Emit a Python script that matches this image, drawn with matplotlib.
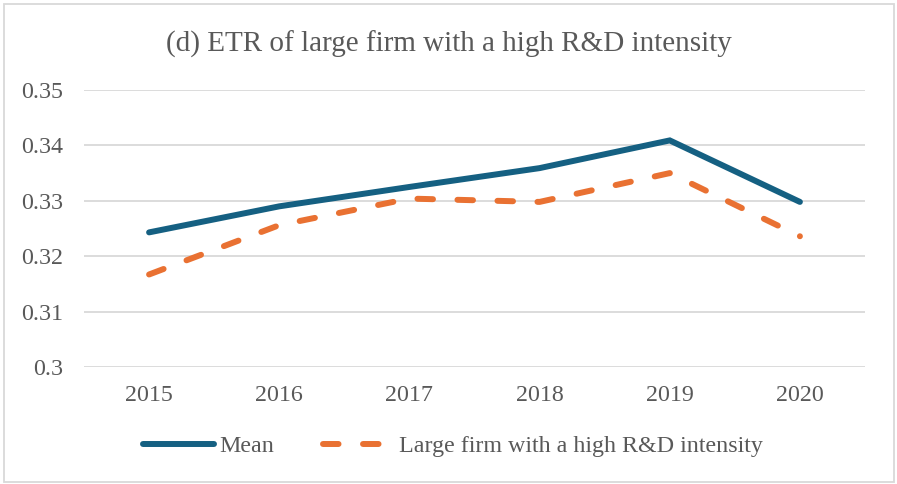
import numpy as np
import matplotlib.pyplot as plt
from matplotlib.patches import Rectangle

# ETR series, 2015-2020
years = ["2015", "2016", "2017", "2018", "2019", "2020"]
mean_etr = [0.3243, 0.3290, 0.3325, 0.3359, 0.3409, 0.3298]
large_rd_etr = [0.3167, 0.3256, 0.3304, 0.3298, 0.3350, 0.3236]
yticks = [0.3, 0.31, 0.32, 0.33, 0.34, 0.35]
ytick_labels = ["0.3", "0.31", "0.32", "0.33", "0.34", "0.35"]

blue = "#156082"
orange = "#E97132"
grey_txt = "#595959"
lw = 4.3

plt.rcParams["font.family"] = ["Liberation Serif", "DejaVu Serif"]

fig = plt.figure(figsize=(8.97, 4.84), dpi=100, facecolor="white")
# thin border round the chart
fig.patches.append(Rectangle((4 / 897, 2 / 484), 890 / 897, 478 / 484,
                             transform=fig.transFigure, fill=False,
                             edgecolor="#d9d9d9", linewidth=1.3))

ax = fig.add_axes([84 / 897, 1 - 367 / 484, 781 / 897, 277 / 484])
x = np.arange(len(years))
ax.plot(x, mean_etr, color=blue, linewidth=lw, solid_capstyle="round",
        solid_joinstyle="miter", label="Mean")
ax.plot(x, large_rd_etr, color=orange, linewidth=lw, linestyle=(0, (2.6, 4.1)),
        dash_capstyle="round", label="Large firm with a high R&D intensity")

ax.set_xlim(-0.5, len(years) - 0.5)
ax.set_ylim(0.3, 0.35)
ax.set_yticks(yticks)
ax.set_yticklabels(ytick_labels)
ax.set_xticks(x)
ax.set_xticklabels(years)
ax.grid(axis="y", color="#d9d9d9", linewidth=1.3)
ax.set_axisbelow(True)
for s in ax.spines.values():
    s.set_visible(False)
ax.tick_params(length=0, labelsize=17.3, labelcolor=grey_txt)
ax.tick_params(axis="x", pad=13)
ax.tick_params(axis="y", pad=15)

fig.text(0.5, 1 - 44 / 484, "(d) ETR of large firm with a high R&D intensity",
         ha="center", va="center", fontsize=21, color=grey_txt)

fig.legend(loc="center", bbox_to_anchor=(453 / 897, 1 - 446 / 484), ncol=2,
           frameon=False, fontsize=17.3, labelcolor=grey_txt, handlelength=2.95,
           handletextpad=0.25, columnspacing=2.0)

fig.savefig("out.png", dpi=100)
